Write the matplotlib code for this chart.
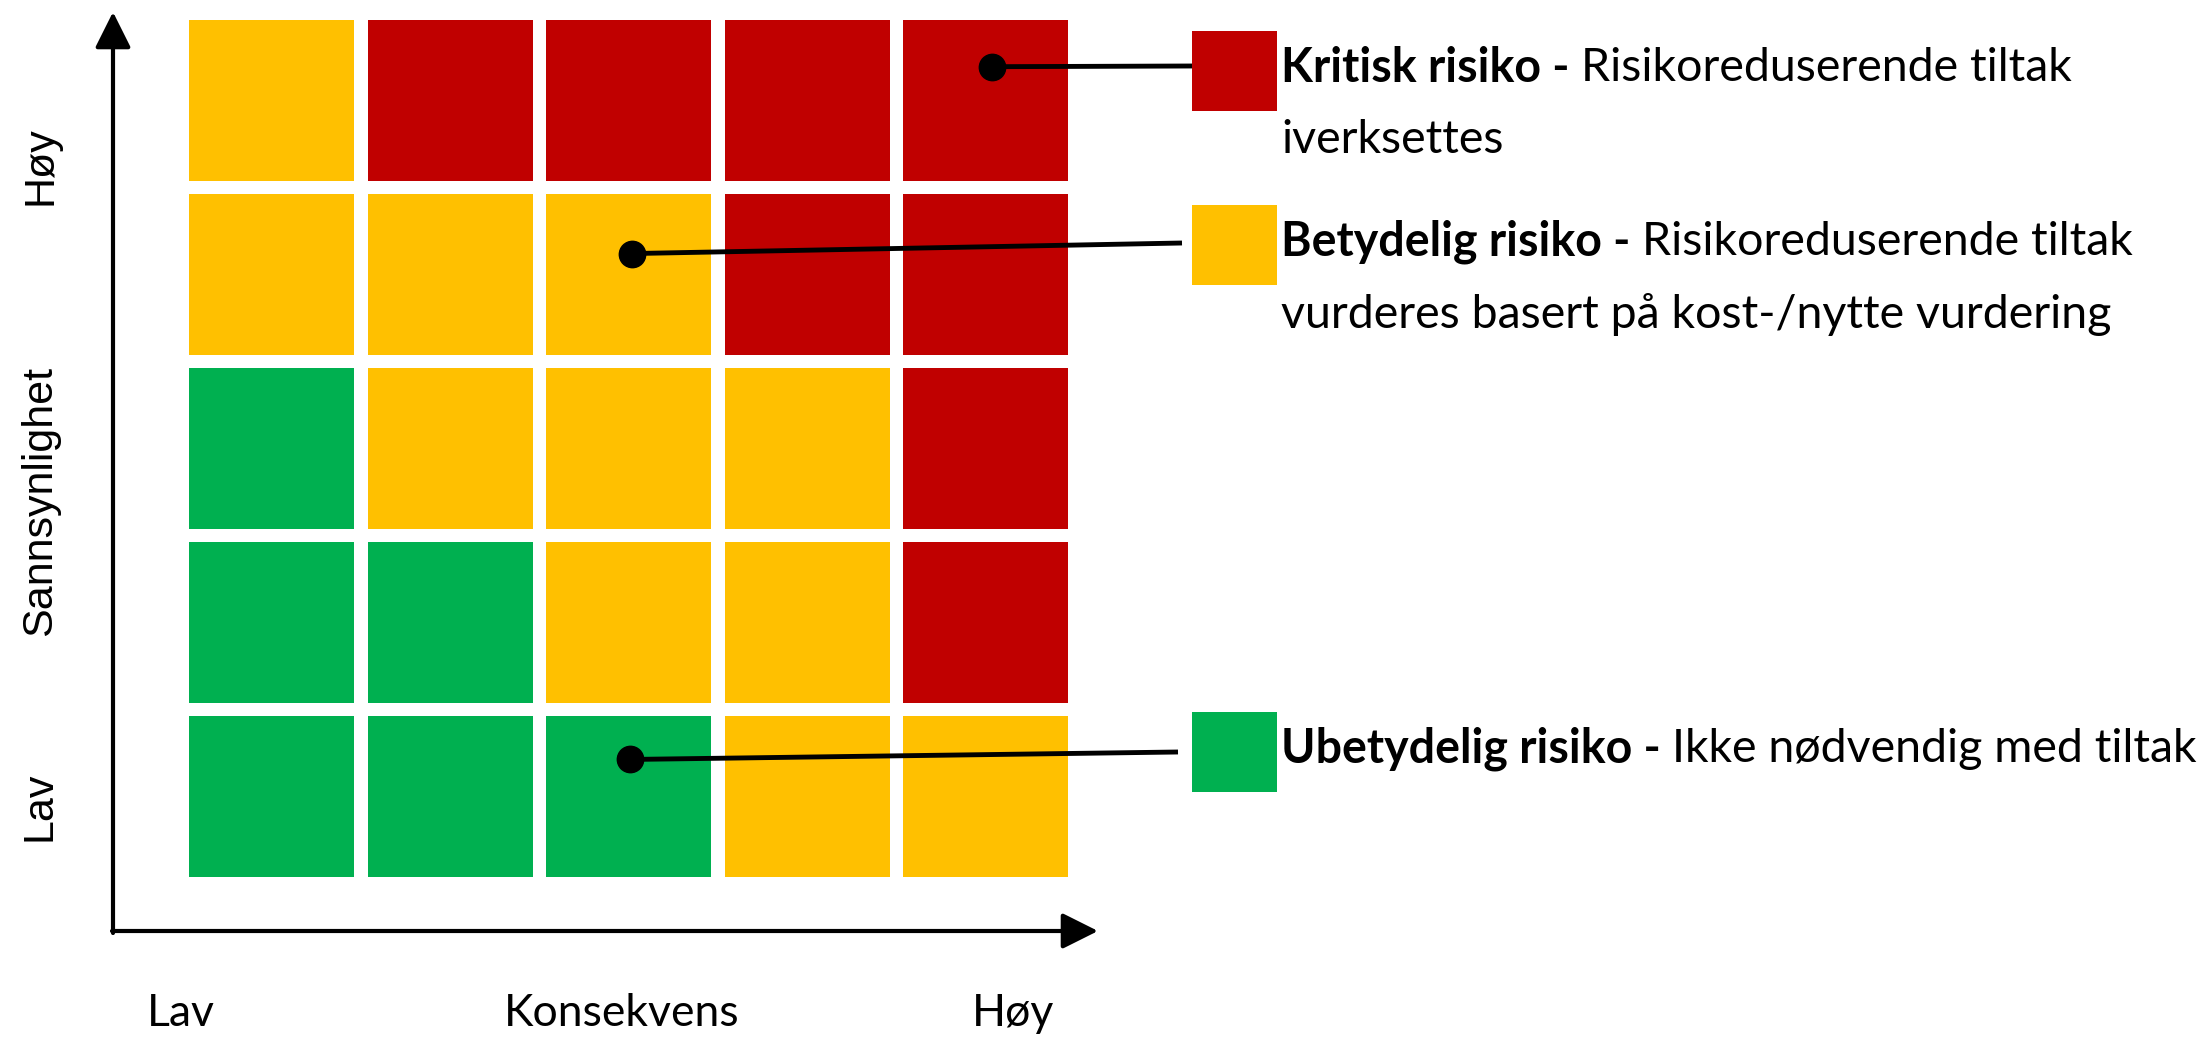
import matplotlib
matplotlib.use("Agg")
import matplotlib.pyplot as plt
from matplotlib.patches import Rectangle, FancyArrowPatch

# risk level per cell, top row first (høy sannsynlighet), left column = lav konsekvens
risk_matrix = [
    ["B", "K", "K", "K", "K"],
    ["B", "B", "B", "K", "K"],
    ["U", "B", "B", "B", "K"],
    ["U", "U", "B", "B", "K"],
    ["U", "U", "U", "B", "B"],
]
risk_colors = {"K": "#C00000", "B": "#FFC000", "U": "#00B050"}
legend_keys = ["K", "B", "U"]
legend_bold = {"K": "Kritisk risiko - ", "B": "Betydelig risiko - ", "U": "Ubetydelig risiko - "}
legend_text = {
    "K": ["Risikoreduserende tiltak", "iverksettes"],
    "B": ["Risikoreduserende tiltak", "vurderes basert på kost-/nytte vurdering"],
    "U": ["Ikke nødvendig med tiltak"],
}
# which cell (row, col) each legend line points at
pointer_cells = {"K": (0, 4), "B": (1, 2), "U": (4, 2)}
y_labels = ["Høy", "Sannsynlighet", "Lav"]
x_labels = ["Lav", "Konsekvens", "Høy"]

W, H = 2212, 1038
fig = plt.figure(figsize=(W / 100, H / 100), dpi=100)
ax = fig.add_axes([0, 0, 1, 1])
ax.set_xlim(0, W)
ax.set_ylim(H, 0)
ax.axis("off")

x0, y0 = 189, 20
cw, ch = 165, 161
px, py = 178.5, 174

for r, row in enumerate(risk_matrix):
    for c, key in enumerate(row):
        ax.add_patch(Rectangle((x0 + c * px, y0 + r * py), cw, ch,
                               facecolor=risk_colors[key], edgecolor="none"))

# axes arrows
head = "-|>,head_length=1.1,head_width=0.55"
ax.add_patch(FancyArrowPatch((113, 933), (113, 12), arrowstyle=head,
                             mutation_scale=20, color="black", lw=3, shrinkA=0, shrinkB=0))
ax.add_patch(FancyArrowPatch((112, 931), (1098, 931), arrowstyle=head,
                             mutation_scale=20, color="black", lw=3, shrinkA=0, shrinkB=0))

lab_font = "Liberation Sans"
ax.text(40, 166, y_labels[0], rotation=90, ha="center", va="center", fontsize=31, family=lab_font)
ax.text(40, 501, y_labels[1], rotation=90, ha="center", va="center", fontsize=31, family=lab_font)
ax.text(40, 806, y_labels[2], rotation=90, ha="center", va="center", fontsize=31, family=lab_font)

txt_font = "Lato"
ax.text(181, 1013, x_labels[0], ha="center", va="center", fontsize=32, family=txt_font)
ax.text(622, 1013, x_labels[1], ha="center", va="center", fontsize=32, family=txt_font)
ax.text(1013, 1013, x_labels[2], ha="center", va="center", fontsize=32, family=txt_font)

sq_x, sq_w, sq_h = 1192, 85, 80
sq_tops = {"K": 31, "B": 205, "U": 712}
line_ends = {"K": (1192, 66), "B": (1182, 243), "U": (1178, 752)}
dot_pos = {"K": (0.54, 0.29), "B": (0.52, 0.37), "U": (0.51, 0.27)}

fig.canvas.draw()
renderer = fig.canvas.get_renderer()
inv = ax.transData.inverted()

fs = 33.5
for key in legend_keys:
    top = sq_tops[key]
    ax.add_patch(Rectangle((sq_x, top), sq_w, sq_h, facecolor=risk_colors[key], edgecolor="none"))
    r, c = pointer_cells[key]
    fx, fy = dot_pos[key]
    dx = x0 + c * px + cw * fx
    dy = y0 + r * py + ch * fy
    ex, ey = line_ends[key]
    ax.plot([dx, ex], [dy, ey], color="black", lw=3.5, solid_capstyle="butt")
    ax.plot(dx, dy, "o", color="black", markersize=19)

    ty = top + 37
    t = ax.text(1281, ty, legend_bold[key], ha="left", va="center", fontsize=fs,
                fontweight="bold", family=txt_font)
    bb = t.get_window_extent(renderer)
    xe = inv.transform((bb.x1, bb.y0))[0]
    ax.text(xe, ty, legend_text[key][0], ha="left", va="center", fontsize=fs, family=txt_font)
    for i, extra in enumerate(legend_text[key][1:]):
        ax.text(1281, ty + 72 * (i + 1), extra, ha="left", va="center", fontsize=fs, family=txt_font)

fig.savefig("out.png", dpi=100, facecolor="white")
